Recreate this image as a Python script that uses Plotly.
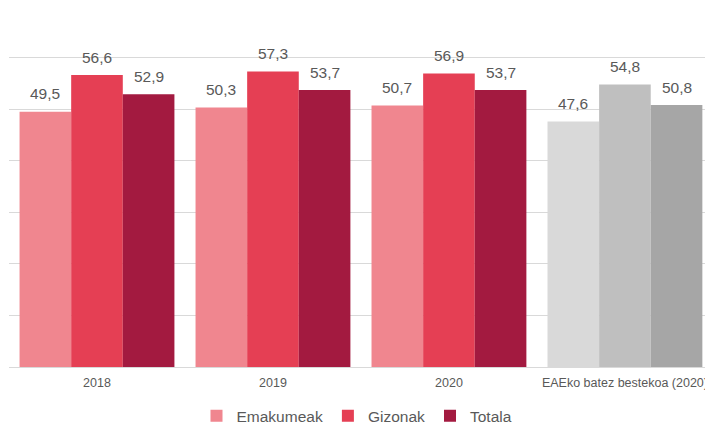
import plotly.graph_objects as go

categories = ["2018", "2019", "2020", "EAEko batez bestekoa (2020)"]
emakumeak = [49.5, 50.3, 50.7, 47.6]
gizonak = [56.6, 57.3, 56.9, 54.8]
totala = [52.9, 53.7, 53.7, 50.8]

series = [
    ("Emakumeak", emakumeak, "#F0868F", "#D9D9D9"),
    ("Gizonak", gizonak, "#E53F54", "#BFBFBF"),
    ("Totala", totala, "#A31A40", "#A6A6A6"),
]

bargap = 0.12
bw = (1 - bargap) / len(series)

fig = go.Figure()
annotations = []
for k, (name, vals, col, grey) in enumerate(series):
    colors = [col] * (len(categories) - 1) + [grey]
    fig.add_trace(go.Bar(
        x=categories, y=vals, name=name,
        marker=dict(color=colors, line=dict(width=0)),
        hoverinfo="skip",
    ))
    off = (k - (len(series) - 1) / 2) * bw
    for i, v in enumerate(vals):
        annotations.append(dict(
            x=i + off, y=v, xref="x", yref="y",
            text=f"{v:.1f}".replace(".", ","),
            showarrow=False, yanchor="middle", yshift=18,
            font=dict(family="Liberation Sans, Arial", size=15.5, color="#595959"),
        ))

fig.update_layout(
    width=705, height=428,
    margin=dict(l=9, r=0, t=6, b=61, autoexpand=False),
    barmode="group", bargap=bargap, bargroupgap=0,
    plot_bgcolor="white", paper_bgcolor="white",
    showlegend=True,
    legend=dict(
        orientation="h", x=0.5, xanchor="center", y=-0.136, yanchor="middle",
        font=dict(family="Liberation Sans, Arial", size=15.5, color="#595959"),
        itemwidth=30, tracegroupgap=0,
    ),
    annotations=annotations,
    xaxis=dict(
        range=[-0.5, 3.455], showgrid=False, showline=True,
        linecolor="#D9D9D9", linewidth=1, ticks="", ticklabelstandoff=4,
        tickfont=dict(family="Liberation Sans, Arial", size=12.5, color="#595959"),
    ),
    yaxis=dict(
        range=[0, 70], dtick=10, showgrid=True, gridcolor="#D9D9D9",
        gridwidth=1, showticklabels=False, zeroline=False, ticks="",
    ),
)

fig.write_html(
    "out.html",
    config={"displayModeBar": False},
    post_script="document.body.style.margin='0';document.body.style.overflow='hidden';",
)
